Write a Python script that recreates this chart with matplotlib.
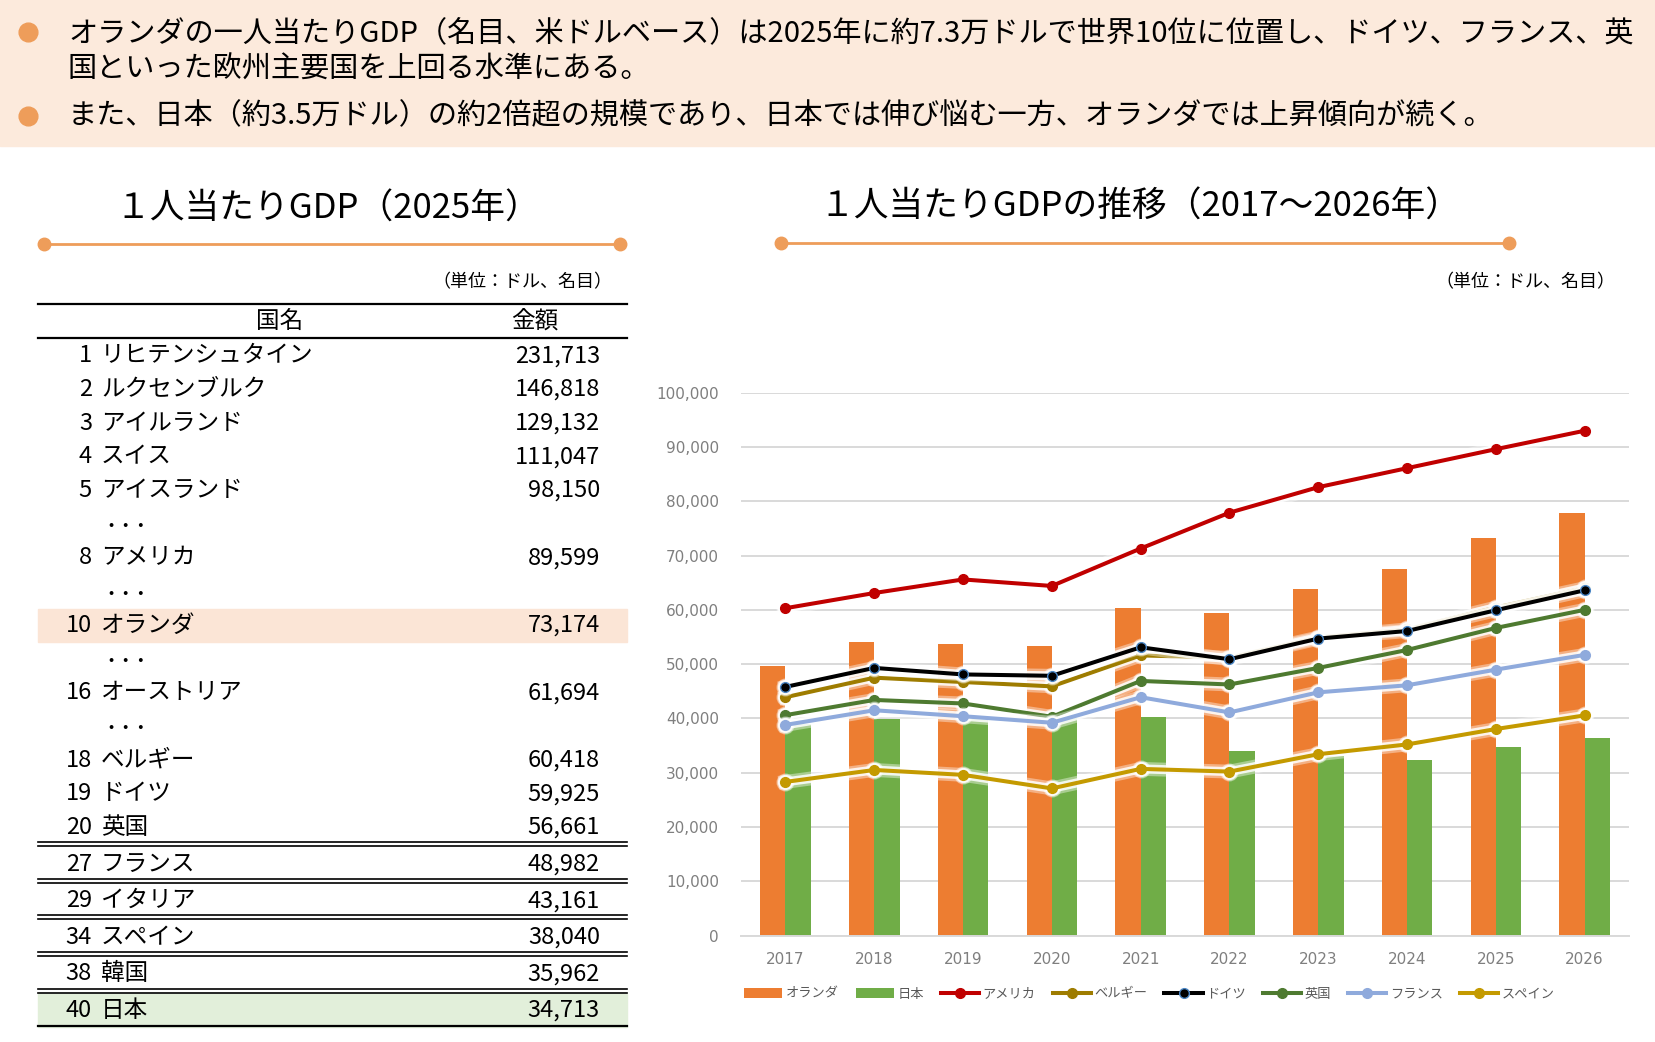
import matplotlib
matplotlib.use("Agg")
import matplotlib.pyplot as plt
from matplotlib.patches import Rectangle

plt.rcParams['font.family'] = ['Noto Sans CJK JP', 'DejaVu Sans']

# ---- data ----
years = ['2017', '2018', '2019', '2020', '2021', '2022', '2023', '2024', '2025', '2026']
netherlands = [49600, 54050, 53700, 53400, 60300, 59500, 63800, 67600, 73174, 77800]
japan = [38900, 39900, 40400, 40000, 40200, 34000, 33100, 32300, 34713, 36400]
usa = [60300, 63100, 65600, 64400, 71300, 77900, 82600, 86100, 89599, 93000]
belgium = [43900, 47500, 46700, 45900, 51600, 51200, 54900, 56400, 60418, 64000]
germany = [45800, 49300, 48100, 47850, 53100, 50900, 54700, 56100, 59925, 63600]
uk = [40600, 43400, 42750, 40300, 46900, 46250, 49300, 52600, 56661, 60000]
france = [38800, 41500, 40400, 39200, 43900, 41100, 44800, 46100, 48982, 51700]
spain = [28300, 30500, 29600, 27100, 30700, 30200, 33400, 35200, 38040, 40550]

ranks = [1, 2, 3, 4, 5, 8, 10, 16, 18, 19, 20, 27, 29, 34, 38, 40]
names = ['リヒテンシュタイン', 'ルクセンブルク', 'アイルランド', 'スイス', 'アイスランド',
         'アメリカ', 'オランダ', 'オーストリア', 'ベルギー', 'ドイツ', '英国',
         'フランス', 'イタリア', 'スペイン', '韓国', '日本']
amounts = [231713, 146818, 129132, 111047, 98150, 89599, 73174, 61694, 60418,
           59925, 56661, 48982, 43161, 38040, 35962, 34713]

bullets = [
    'オランダの一人当たりGDP（名目、米ドルベース）は2025年に約7.3万ドルで世界10位に位置し、ドイツ、フランス、英\n'
    '国といった欧州主要国を上回る水準にある。',
    'また、日本（約3.5万ドル）の約2倍超の規模であり、日本では伸び悩む一方、オランダでは上昇傾向が続く。',
]

ORANGE_DECO = '#EE9D5A'

fig = plt.figure(figsize=(16.56, 10.42), dpi=100)

# background axes in pixel coordinates for the banner / titles / table
bg = fig.add_axes([0, 0, 1, 1])
bg.set_xlim(0, 1656)
bg.set_ylim(1042, 0)
bg.axis('off')

# banner
bg.add_patch(Rectangle((0, 0), 1656, 146, color='#FCEADC', zorder=0))
bg.plot(28.5, 31.5, 'o', ms=13.5, color=ORANGE_DECO)
bg.plot(28.5, 116, 'o', ms=13.5, color=ORANGE_DECO)
bg.text(68, 52, bullets[0], fontsize=21, va='center', linespacing=1.25)
bg.text(68, 116, bullets[1], fontsize=21, va='center')

# section titles
bg.text(328, 209, '１人当たりGDP（2025年）', fontsize=25, ha='center', va='center')
bg.text(1140, 207, '１人当たりGDPの推移（2017～2026年）', fontsize=25, ha='center', va='center')
bg.plot([44, 620], [244, 244], '-', color=ORANGE_DECO, lw=2)
bg.plot([44, 620], [244, 244], 'o', color=ORANGE_DECO, ms=9)
bg.plot([781, 1509], [243, 243], '-', color=ORANGE_DECO, lw=2)
bg.plot([781, 1509], [243, 243], 'o', color=ORANGE_DECO, ms=9)

# unit labels
bg.text(612, 282, '（単位：ドル、名目）', fontsize=13, ha='right', va='center')
bg.text(1615, 282, '（単位：ドル、名目）', fontsize=13, ha='right', va='center')

# ---- table ----
tl, tr = 38, 627
bg.plot([tl, tr], [304, 304], color='black', lw=1.6)
bg.plot([tl, tr], [338, 338], color='black', lw=1.6)
bg.text(280, 321, '国名', fontsize=17, ha='center', va='center')
bg.text(535, 321, '金額', fontsize=17, ha='center', va='center')

y = 355.7
prev = None
for r, n, v in zip(ranks, names, amounts):
    if prev is not None and r - prev > 1 and r <= 18:
        bg.text(103, y + 2, '・・・', fontsize=11, va='center', fontweight='bold')
        y += 33.7
    if prev is not None and prev >= 20:
        y_line = y - 20
        bg.plot([tl, tr], [y_line - 2, y_line - 2], color='black', lw=1.2)
        bg.plot([tl, tr], [y_line + 2, y_line + 2], color='black', lw=1.2)
    if n == 'オランダ':
        bg.add_patch(Rectangle((tl, y - 16.5), tr - tl, 33, color='#FBE5D6', zorder=0))
    if n == '日本':
        bg.add_patch(Rectangle((tl, y - 16.5), tr - tl, 33, color='#E2EFDA', zorder=0))
    bg.text(92, y, str(r), fontsize=17, ha='right', va='center')
    bg.text(101, y, n, fontsize=17, ha='left', va='center')
    bg.text(600, y, f'{v:,}', fontsize=17, ha='right', va='center')
    prev = r
    y += 33.7 if r < 20 else 36.6
bg.plot([tl, tr], [1026, 1026], color='black', lw=1.6)

# ---- chart ----
ax = fig.add_axes([0.4475, 0.1022, 0.5362, 0.5209])
x = list(range(len(years)))
bw = 0.285
ax.bar(x, netherlands, width=-bw, align='edge', color='#ED7D31', label='オランダ', zorder=2)
ax.bar(x, japan, width=bw, align='edge', color='#70AD47', label='日本', zorder=2)

series = [
    ('アメリカ', usa, '#C00000', '#C00000'),
    ('ベルギー', belgium, '#9E7C00', '#9E7C00'),
    ('ドイツ', germany, '#000000', '#4A86C5'),
    ('英国', uk, '#4E7A30', '#4E7A30'),
    ('フランス', france, '#8FAADC', '#8FAADC'),
    ('スペイン', spain, '#C49A00', '#C49A00'),
]
for i, (lab, vals, col, edge) in enumerate(series):
    z = 3 + 3 * i
    # soft white glow under each line
    ax.plot(x, vals, '-o', color='white', lw=10, ms=12, alpha=0.4, zorder=z)
    ax.plot(x, vals, '-o', color='white', lw=6.5, ms=10, alpha=0.85, zorder=z + 1)
    ax.plot(x, vals, '-o', color=col, lw=2.9, ms=7, mec=edge, mew=1,
            label=lab, zorder=z + 2)

ticks = list(range(0, 100001, 10000))
ax.set_xlim(-0.5, len(years) - 0.5)
ax.set_ylim(0, 100000)
ax.set_yticks(ticks)
ax.set_yticklabels([f'{t:,}' for t in ticks], fontfamily='DejaVu Sans')
ax.set_xticks(x)
ax.set_xticklabels(years, fontfamily='DejaVu Sans')
ax.grid(axis='y', color='#D9D9D9', lw=1.4)
ax.set_axisbelow(True)
for s in ['top', 'right', 'left']:
    ax.spines[s].set_visible(False)
ax.spines['bottom'].set_color('#D9D9D9')
ax.spines['bottom'].set_linewidth(1.4)
ax.tick_params(axis='both', length=0, labelcolor='#7F7F7F', labelsize=11)
ax.tick_params(axis='y', pad=16)
ax.tick_params(axis='x', pad=12)

handles, labels = ax.get_legend_handles_labels()
order = [6, 7, 0, 1, 2, 3, 4, 5]
leg = fig.legend([handles[i] for i in order], [labels[i] for i in order],
                 loc='center', bbox_to_anchor=(0.694, 0.046), ncol=8, frameon=False,
                 fontsize=9.5, handlelength=2.9, handletextpad=0.25, columnspacing=1.3,
                 handleheight=0.8)
for t in leg.get_texts():
    t.set_color('#595959')

fig.savefig('out.png', dpi=100)
